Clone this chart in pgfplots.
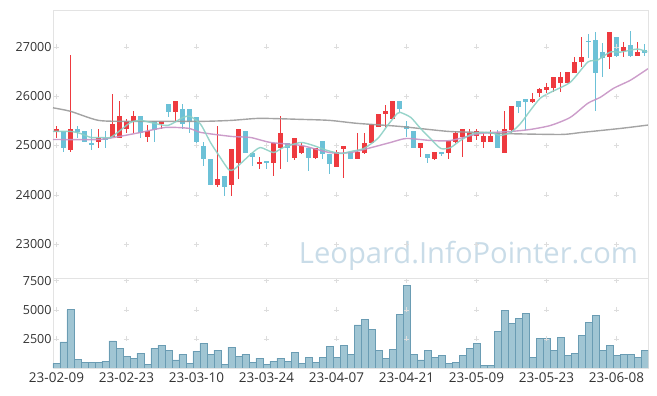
\documentclass[border=0pt]{standalone}
\usepackage{fontspec}
\setmainfont{Open Sans}
\usepackage{graphicx}
\usepackage{pgfplots}
\pgfplotsset{compat=1.18}
\usepackage{pgfplotstable}

\definecolor{upc}{HTML}{EE3A3F}
\definecolor{dnc}{HTML}{6CC1D7}
\definecolor{maA}{HTML}{8CCFC4}
\definecolor{maB}{HTML}{C692C4}
\definecolor{maC}{HTML}{9A9A9A}
\definecolor{volf}{HTML}{9BC2D1}
\definecolor{vold}{HTML}{6A9CB3}
\definecolor{frm}{HTML}{E3E3E3}
\definecolor{tickc}{HTML}{333333}
\definecolor{wm}{HTML}{C9DCE8}
\definecolor{plusc}{HTML}{DDDDDD}

\pgfplotstableread{
i o h l c
0 25265 25388 25143 25326
2 24918 26836 24878 25326
6 25061 25326 24959 25143
8 25163 26040 25163 25428
9 25143 25898 25143 25592
10 25326 25530 25245 25490
11 25470 25694 25245 25592
13 25163 25408 25061 25286
15 25428 25490 25326 25490
17 25673 25898 25470 25898
23 24204 25388 24164 24327
25 24204 24939 23980 24939
26 24653 25326 24327 25326
29 24633 24776 24531 24674
31 24653 25041 24388 25041
32 24959 25592 24531 25245
34 24755 25143 24714 25143
35 24857 25041 24837 24980
37 24755 24959 24735 24959
40 24572 24918 24572 24878
41 24939 24980 24347 24980
43 24735 25245 24735 24878
44 24857 25245 24837 25041
45 25041 25428 25041 25428
46 25367 25632 25367 25632
47 25632 25816 25367 25694
48 25530 25898 25530 25898
52 24959 25041 24776 25041
54 24735 24878 24714 24878
56 24857 25082 24735 25082
57 25061 25286 25041 25245
58 25163 25326 24776 25326
59 25061 25326 25061 25245
60 25184 25326 25102 25286
61 25061 25245 24959 25184
62 25061 25306 25061 25184
64 24857 25694 24857 25326
65 25306 25796 25245 25796
68 25877 26061 25857 25938
69 26061 26163 25980 26142
70 26122 26265 26061 26183
71 26163 26387 26081 26387
72 26265 26489 26081 26387
73 26265 26489 26265 26489
74 26469 26795 26469 26693
75 26693 27203 26591 26795
79 26795 27306 26551 27306
81 26918 27102 26795 27000
83 26816 27102 26816 26898
}\up

\pgfplotstableread{
i o h l c
1 25286 25286 24878 24959
3 25326 25388 25143 25265
4 25286 25286 25061 25061
5 25041 25326 24918 25020
7 25143 25286 24959 25122
12 25592 25592 25143 25245
14 25490 25490 25061 25306
16 25836 25836 25571 25673
18 25734 25836 25326 25428
19 25734 25734 25245 25470
20 25571 25571 25041 25061
21 24980 25061 24592 24735
22 24735 24735 24204 24204
24 24388 24388 23980 24164
27 25286 25286 24857 24857
28 24857 24878 24592 24776
30 24674 24674 24531 24653
33 25041 25041 24674 24959
36 24959 24959 24490 24755
38 25082 25082 24735 24837
39 24837 24837 24429 24633
42 24878 24878 24735 24735
49 25898 25898 25673 25734
50 25388 25490 25163 25326
51 25286 25286 24959 24959
53 24837 24837 24653 24755
55 24878 24878 24796 24837
63 25245 25306 24959 24959
66 25898 25898 25653 25775
67 25938 25938 25306 25877
76 27122 27265 26775 27102
77 27143 27306 25694 26469
78 26898 27081 26387 26775
80 27203 27203 26795 26816
82 27041 27326 26795 26816
84 26938 27061 26816 26877
}\dn

\pgfplotstableread{
i v
0 400
1 2240
2 5000
3 750
4 490
5 490
6 490
7 600
8 2330
9 1700
10 1010
11 840
12 1270
13 320
14 1700
15 1960
16 1525
17 690
18 1180
19 400
20 1440
21 2130
22 1180
23 1525
24 320
25 1785
26 1010
27 1180
28 490
29 840
30 320
31 600
32 840
33 600
34 1350
35 400
36 920
37 490
38 920
39 1870
40 920
41 1960
42 1180
43 3700
44 4140
45 3330
46 1525
47 840
48 1610
49 4630
50 7070
51 1180
52 690
53 1525
54 920
55 1095
56 400
57 490
58 1095
59 1700
60 2130
61 230
62 230
63 3160
64 4970
65 3850
66 4280
67 4710
68 920
69 2560
70 2560
71 1525
72 2650
73 1095
74 1270
75 2820
76 3940
77 4540
78 1525
79 1960
80 1095
81 1180
82 1180
83 920
84 1525
}\vol

\pgfplotsset{
  base/.style={
    scale only axis, width=595pt,
    xmin=-0.5, xmax=84.5,
    scaled x ticks=false, scaled y ticks=false,
    axis line style={draw=frm, line width=0.8pt},
    tick style={draw=none},
    ticklabel style={font=\fontsize{12.5}{14}\selectfont, text=tickc},
    /pgf/number format/assume math mode=true,
  },
  wick/.style={draw=none, mark=none, forget plot,
    error bars/.cd, y dir=both, y explicit, error mark=none,
    error bar style={draw=#1, line width=1.3pt, solid}},
  body/.style={draw=none, mark=none, forget plot,
    error bars/.cd, y dir=both, y explicit, error mark=none,
    error bar style={draw=#1, line width=4.8pt, solid}},
}

\begin{document}
\begin{tikzpicture}
\path[use as bounding box] (-53pt,-28pt) rectangle (604pt,368pt);

% volume axis
\begin{axis}[base, at={(0,0)}, anchor=south west, height=90pt,
  ymin=0, ymax=7730,
  xtick={0,10,20,30,40,50,60,70,80},
  xticklabels={23-02-09,23-02-23,23-03-10,23-03-24,23-04-07,23-04-21,23-05-09,23-05-23,23-06-08},
  ytick={2500,5000,7500}, yticklabels={2500,5000,7500},
  xticklabel style={font=\fontsize{13.5}{15}\selectfont, yshift=-1pt},
  yticklabel style={xshift=2pt},
]
\addplot[only marks, mark=+, mark size=2.5pt, color=plusc] coordinates {
(0,2500)(10,2500)(20,2500)(30,2500)(40,2500)(50,2500)(60,2500)(70,2500)(80,2500)
(0,5000)(10,5000)(20,5000)(30,5000)(40,5000)(50,5000)(60,5000)(70,5000)(80,5000)
(0,7500)(10,7500)(20,7500)(30,7500)(40,7500)(50,7500)(60,7500)(70,7500)(80,7500)};
\addplot[ybar, bar width=1, fill=volf, draw=vold, line width=0.7pt, fill opacity=0.95] table[x=i, y=v] {\vol};
\end{axis}

% price axis
\begin{axis}[base, at={(0,90pt)}, anchor=south west, height=268pt,
  ymin=22310, ymax=27751,
  xtick=\empty,
  ytick={23000,24000,25000,26000,27000},
  yticklabels={23000,24000,25000,26000,27000},
  yticklabel style={xshift=2pt},
]
\addplot[only marks, mark=+, mark size=2.5pt, color=plusc] coordinates {
(0,23000)(10,23000)(20,23000)(30,23000)(40,23000)(50,23000)(60,23000)(70,23000)(80,23000)
(0,24000)(10,24000)(20,24000)(30,24000)(40,24000)(50,24000)(60,24000)(70,24000)(80,24000)
(0,25000)(10,25000)(20,25000)(30,25000)(40,25000)(50,25000)(60,25000)(70,25000)(80,25000)
(0,26000)(10,26000)(20,26000)(30,26000)(40,26000)(50,26000)(60,26000)(70,26000)(80,26000)
(0,27000)(10,27000)(20,27000)(30,27000)(40,27000)(50,27000)(60,27000)(70,27000)(80,27000)};

\node[anchor=base east, text=wm, inner sep=0pt] at (axis cs:83.1,22614)
  {\resizebox{339pt}{!}{Leopard.InfoPointer.com}};

% wicks
\addplot[wick=upc] table[x=i, y expr={(\thisrow{h}+\thisrow{l})/2}, y error expr={(\thisrow{h}-\thisrow{l})/2}] {\up};
\addplot[wick=dnc] table[x=i, y expr={(\thisrow{h}+\thisrow{l})/2}, y error expr={(\thisrow{h}-\thisrow{l})/2}] {\dn};
% bodies
\addplot[body=upc] table[x=i, y expr={(\thisrow{o}+\thisrow{c})/2}, y error expr={max(abs(\thisrow{c}-\thisrow{o})/2,12)}] {\up};
\addplot[body=dnc] table[x=i, y expr={(\thisrow{o}+\thisrow{c})/2}, y error expr={max(abs(\thisrow{c}-\thisrow{o})/2,12)}] {\dn};

% moving averages
\addplot[maC, line width=1.4pt, opacity=0.9, smooth, tension=0.4] coordinates {
(-0.5,25765)(2,25694)(6,25510)(10.6,25490)(20.6,25490)(25,25510)(29,25551)(35,25530)(39,25510)
(43,25449)(49,25388)(56,25286)(61,25265)(63,25245)(72,25224)(75,25265)(80.6,25347)(84.5,25415)};
\addplot[maB, line width=1.4pt, opacity=0.9, smooth, tension=0.4] coordinates {
(-0.5,25122)(6,25122)(9,25184)(12,25265)(15.6,25367)(19,25347)(20.6,25265)(25,25184)(27.7,25163)
(30.6,25061)(35,25000)(39,24857)(42,24857)(45,24959)(47.7,25061)(50,25143)(53.4,25102)(56.3,25102)
(60.6,25245)(65,25286)(67.7,25326)(70.6,25408)(73.4,25571)(75.9,25857)(77.7,25979)(79.6,26163)
(82,26326)(84.5,26560)};
\addplot[maA, line width=1.4pt, opacity=0.9, smooth, tension=0.4] coordinates {
(-0.5,25286)(2,25286)(3.4,25245)(4.9,25163)(6.3,25163)(7.7,25163)(9.1,25306)(10.6,25469)(12,25510)
(13.4,25469)(15.9,25408)(18.1,25571)(19.1,25592)(20.6,25428)(22,25061)(23.4,24755)(24.6,24510)
(25.3,24510)(26.3,24633)(27.7,24816)(29.1,24959)(31,24857)(32.4,24959)(34.9,25061)(36.7,25000)
(38.7,24898)(40.6,24837)(42,24878)(43.9,24939)(45.9,25143)(47.3,25408)(48.7,25653)(49.1,25673)
(50.6,25571)(52,25347)(53.4,25143)(54.9,24939)(56.3,24959)(57.7,25102)(59.6,25245)(62,25265)
(63.4,25204)(64.9,25265)(66.3,25449)(67.7,25714)(69.1,25959)(70.6,26081)(73.4,26285)(75.9,26693)
(77.3,26734)(79.1,26897)(80.6,26897)(83,26958)(84.4,26897)};
\end{axis}
\end{tikzpicture}
\end{document}
